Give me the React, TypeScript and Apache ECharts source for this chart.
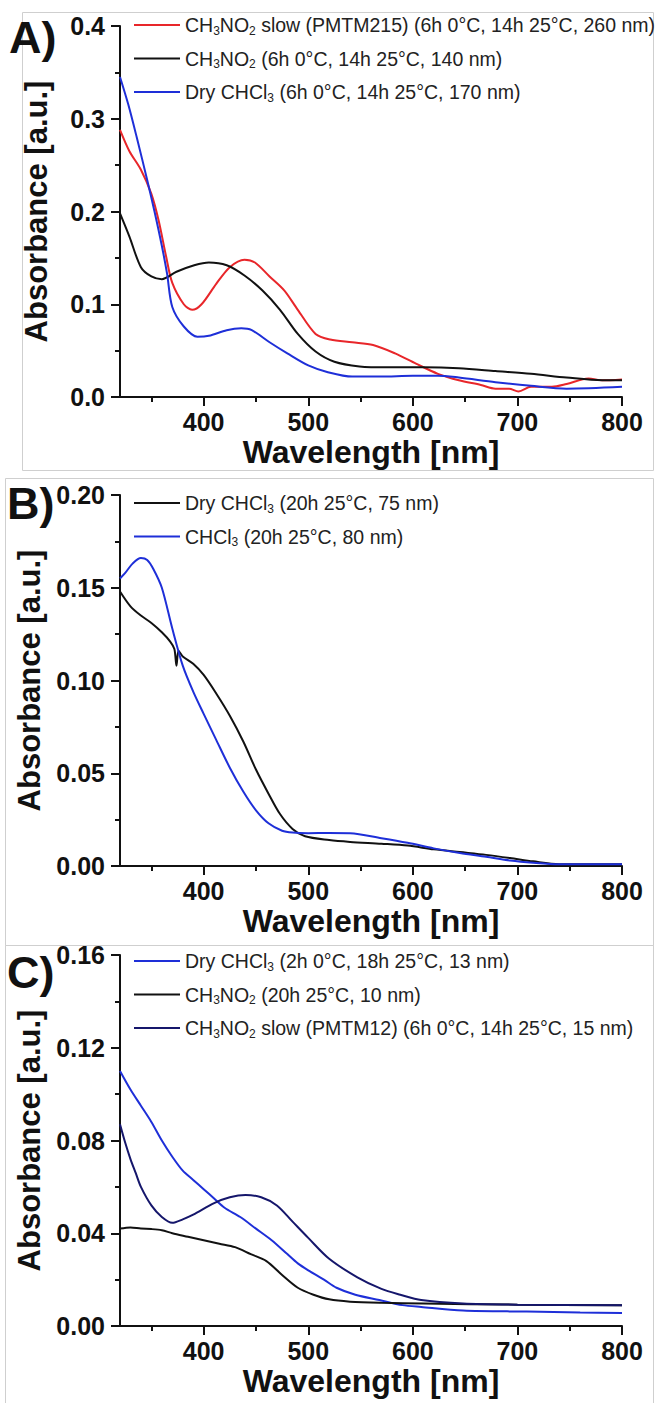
import React, { useEffect, useRef } from "react";
import * as echarts from "echarts";

// ---------- data (wavelength nm, absorbance a.u.) ----------
const X_MIN = 320;
const X_MAX = 800;
const X_MAJOR = [400, 500, 600, 700, 800];
const X_MINOR = [350, 450, 550, 650, 750];

const A_NAMES = [
  "CH3NO2 slow (PMTM215) (6h 0°C, 14h 25°C, 260 nm)",
  "CH3NO2 (6h 0°C, 14h 25°C, 140 nm)",
  "Dry CHCl3 (6h 0°C, 14h 25°C, 170 nm)",
];
const A_RED = [
  [320, 0.288], [329, 0.265], [340, 0.245], [350, 0.219], [357, 0.19], [364, 0.152], [370, 0.123],
  [381, 0.1], [389, 0.094], [398, 0.1], [412, 0.122], [425, 0.14], [439, 0.148], [449, 0.145],
  [463, 0.13], [477, 0.115], [490, 0.094], [507, 0.068], [521, 0.062], [542, 0.059], [562, 0.056],
  [583, 0.047], [603, 0.036], [624, 0.025], [644, 0.018], [665, 0.013], [679, 0.009], [692, 0.009],
  [701, 0.006], [713, 0.011], [733, 0.011], [747, 0.014], [768, 0.02], [781, 0.018], [800, 0.019],
];
const A_BLACK = [
  [320, 0.198], [329, 0.173], [340, 0.14], [350, 0.13], [360, 0.127], [374, 0.135], [391, 0.142],
  [405, 0.145], [422, 0.142], [439, 0.131], [456, 0.115], [473, 0.094], [490, 0.068], [507, 0.049],
  [525, 0.038], [549, 0.033], [576, 0.032], [610, 0.032], [644, 0.031], [679, 0.028], [713, 0.025],
  [747, 0.021], [781, 0.018], [800, 0.018],
];
const A_BLUE = [
  [320, 0.345], [328, 0.315], [336, 0.28], [346, 0.234], [353, 0.2], [360, 0.163], [365, 0.133],
  [370, 0.097], [381, 0.076], [394, 0.065], [405, 0.066], [422, 0.072], [436, 0.074], [446, 0.072],
  [463, 0.059], [480, 0.047], [500, 0.034], [518, 0.027], [542, 0.022], [569, 0.022], [600, 0.023],
  [624, 0.023], [644, 0.021], [679, 0.016], [713, 0.012], [747, 0.009], [800, 0.011],
];

const B_NAMES = ["Dry CHCl3 (20h 25°C, 75 nm)", "CHCl3 (20h 25°C, 80 nm)"];
const B_BLACK = [
  [320, 0.148], [330, 0.14], [340, 0.135], [350, 0.131], [360, 0.126], [368, 0.121], [372, 0.117],
  [374, 0.108], [376, 0.116], [380, 0.113], [390, 0.109], [400, 0.103], [412, 0.093], [425, 0.081],
  [438, 0.067], [450, 0.052], [462, 0.039], [473, 0.028], [485, 0.02], [497, 0.016], [520, 0.014],
  [540, 0.013], [570, 0.012], [595, 0.011], [620, 0.009], [645, 0.0075], [670, 0.006], [693, 0.0043],
  [715, 0.0025], [740, 0.001], [800, 0.001],
];
const B_BLUE = [
  [320, 0.155], [325, 0.158], [332, 0.163], [340, 0.166], [346, 0.165], [352, 0.16], [360, 0.15],
  [370, 0.128], [380, 0.108], [390, 0.094], [400, 0.082], [412, 0.068], [425, 0.053], [438, 0.04],
  [450, 0.03], [462, 0.023], [475, 0.019], [485, 0.018], [500, 0.0177], [520, 0.0178], [540, 0.0177],
  [570, 0.015], [595, 0.0125], [620, 0.0095], [645, 0.007], [670, 0.005], [693, 0.003], [715, 0.0018],
  [740, 0.001], [800, 0.001],
];

const C_NAMES = [
  "Dry CHCl3 (2h 0°C, 18h 25°C, 13 nm)",
  "CH3NO2 (20h 25°C, 10 nm)",
  "CH3NO2 slow (PMTM12) (6h 0°C, 14h 25°C, 15 nm)",
];
const C_BLUE = [
  [320, 0.11], [330, 0.102], [340, 0.095], [350, 0.088], [360, 0.08], [370, 0.073], [380, 0.067],
  [390, 0.063], [400, 0.059], [410, 0.055], [420, 0.051], [435, 0.047], [450, 0.042], [465, 0.037],
  [480, 0.031], [490, 0.027], [500, 0.024], [515, 0.02], [527, 0.0165], [545, 0.0135], [568, 0.0112],
  [590, 0.009], [608, 0.0082], [648, 0.0067], [709, 0.0062], [760, 0.0058], [800, 0.0056],
];
const C_BLACK = [
  [320, 0.042], [330, 0.0425], [340, 0.042], [350, 0.0418], [360, 0.0413], [370, 0.04], [385, 0.0385],
  [400, 0.037], [415, 0.0355], [430, 0.034], [445, 0.031], [460, 0.028], [475, 0.022], [490, 0.0165],
  [505, 0.0135], [520, 0.0115], [540, 0.0105], [570, 0.01], [610, 0.0097], [700, 0.0092], [800, 0.009],
];
const C_NAVY = [
  [320, 0.087], [325, 0.079], [330, 0.072], [335, 0.066], [340, 0.06], [350, 0.052], [360, 0.047],
  [370, 0.0445], [380, 0.046], [390, 0.048], [410, 0.053], [425, 0.0555], [440, 0.0565], [455, 0.0555],
  [470, 0.052], [485, 0.045], [500, 0.038], [520, 0.029], [547, 0.021], [570, 0.016], [588, 0.0135],
  [608, 0.0112], [648, 0.0097], [700, 0.0092], [800, 0.009],
];

// ---------- styling ----------
const FONT = "'Liberation Sans', Arial, Helvetica, sans-serif";
const RED = "#e8262a";
const BLACK = "#111111";
const BLUE = "#1e2fd8";
const NAVY = "#15166b";

const PANELS = [
  { top: 26, yMax: 0.4, yInt: 0.1, digits: 1, label: "A)", legendTop: 9, frame: [22, 12, 631, 458], labelPos: [9, 15] },
  { top: 495, yMax: 0.2, yInt: 0.05, digits: 2, label: "B)", legendTop: 487, frame: [5, 478, 648, 467], labelPos: [7, 481] },
  { top: 955, yMax: 0.16, yInt: 0.04, digits: 2, label: "C)", legendTop: 945, frame: [5, 945, 648, 458], labelPos: [7, 950] },
];
const GRID_LEFT = 120;
const GRID_W = 502;
const GRID_H = 371;

function fmtName(name: string) {
  return name.replace(/CH3NO2/g, "CH{s|3}NO{s|2}").replace(/CHCl3/g, "CHCl{s|3}");
}

export default function App() {
  const ref = useRef<HTMLDivElement>(null);
  useEffect(() => {
    if (!ref.current) return;
    const chart = echarts.init(ref.current, undefined, { renderer: "svg" });

    const grid = PANELS.map((p) => ({ left: GRID_LEFT, top: p.top, width: GRID_W, height: GRID_H }));
    const xAxis: any[] = [];
    const yAxis: any[] = [];
    PANELS.forEach((p, i) => {
      xAxis.push({
        type: "value", gridIndex: i, min: X_MIN, max: X_MAX,
        name: "Wavelength [nm]", nameLocation: "middle", nameGap: 39,
        nameTextStyle: { fontFamily: FONT, fontSize: 32, fontWeight: "bold", color: "#111" },
        axisLine: { show: true, lineStyle: { color: "#111", width: 2 } },
        axisTick: { show: true, length: 9, customValues: X_MAJOR, lineStyle: { color: "#111", width: 2 } },
        axisLabel: { show: true, customValues: X_MAJOR, margin: 12, fontFamily: FONT, fontSize: 25, fontWeight: "bold", color: "#111" },
        splitLine: { show: false },
      });
      xAxis.push({
        type: "value", gridIndex: i, min: X_MIN, max: X_MAX, position: "bottom",
        axisLine: { show: false },
        axisTick: { show: true, length: 5, customValues: X_MINOR, lineStyle: { color: "#111", width: 2 } },
        axisLabel: { show: false },
        splitLine: { show: false },
      });
      yAxis.push({
        type: "value", gridIndex: i, min: 0, max: p.yMax, interval: p.yInt,
        name: "Absorbance [a.u.]", nameLocation: "middle", nameGap: 68, nameRotate: 90,
        nameTextStyle: { fontFamily: FONT, fontSize: 31, fontWeight: "bold", color: "#111" },
        axisLine: { show: true, lineStyle: { color: "#111", width: 2 } },
        axisTick: { show: true, length: 9, lineStyle: { color: "#111", width: 2 } },
        minorTick: { show: true, splitNumber: 2, length: 5, lineStyle: { color: "#111", width: 2 } },
        axisLabel: {
          margin: 15, fontFamily: FONT, fontSize: 25, fontWeight: "bold", color: "#111",
          formatter: (v: number) => v.toFixed(p.digits),
        },
        splitLine: { show: false },
      });
    });

    const mk = (name: string, data: number[][], color: string, gi: number) => ({
      type: "line", name, data, xAxisIndex: gi * 2, yAxisIndex: gi,
      showSymbol: false, symbol: "none", smooth: 0.3,
      lineStyle: { color, width: 2 }, itemStyle: { color },
    });
    const series = [
      mk(A_NAMES[0], A_RED, RED, 0),
      mk(A_NAMES[1], A_BLACK, BLACK, 0),
      mk(A_NAMES[2], A_BLUE, BLUE, 0),
      mk(B_NAMES[0], B_BLACK, BLACK, 1),
      mk(B_NAMES[1], B_BLUE, BLUE, 1),
      mk(C_NAMES[0], C_BLUE, BLUE, 2),
      mk(C_NAMES[1], C_BLACK, BLACK, 2),
      mk(C_NAMES[2], C_NAVY, NAVY, 2),
    ];

    const legendNames = [A_NAMES, B_NAMES, C_NAMES];
    const legend = PANELS.map((p, i) => ({
      data: legendNames[i],
      orient: "vertical", left: 129, top: p.legendTop,
      icon: "rect", itemWidth: 46, itemHeight: 2, itemGap: 11,
      selectedMode: false,
      formatter: fmtName,
      textStyle: {
        fontFamily: FONT, fontSize: 19.5, color: "#222", lineHeight: 22,
        rich: { s: { fontFamily: FONT, fontSize: 12, color: "#222", padding: [11, 0, 0, 0] } },
      },
    }));

    const graphic: any[] = [];
    PANELS.forEach((p) => {
      graphic.push({
        type: "rect", silent: true, z: -1,
        shape: { x: p.frame[0] + 0.5, y: p.frame[1] + 0.5, width: p.frame[2], height: p.frame[3] },
        style: { fill: "none", stroke: "#cfcfcf", lineWidth: 1 },
      });
      graphic.push({
        type: "text", left: p.labelPos[0], top: p.labelPos[1],
        style: { text: p.label, font: `bold 45px ${FONT}`, fill: "#111" },
      });
    });

    chart.setOption({
      animation: false,
      backgroundColor: "#ffffff",
      grid, xAxis, yAxis, series, legend, graphic,
    });
    return () => chart.dispose();
  }, []);
  return <div ref={ref} style={{ position: "absolute", left: 0, top: 0, width: 663, height: 1403 }} />;
}
